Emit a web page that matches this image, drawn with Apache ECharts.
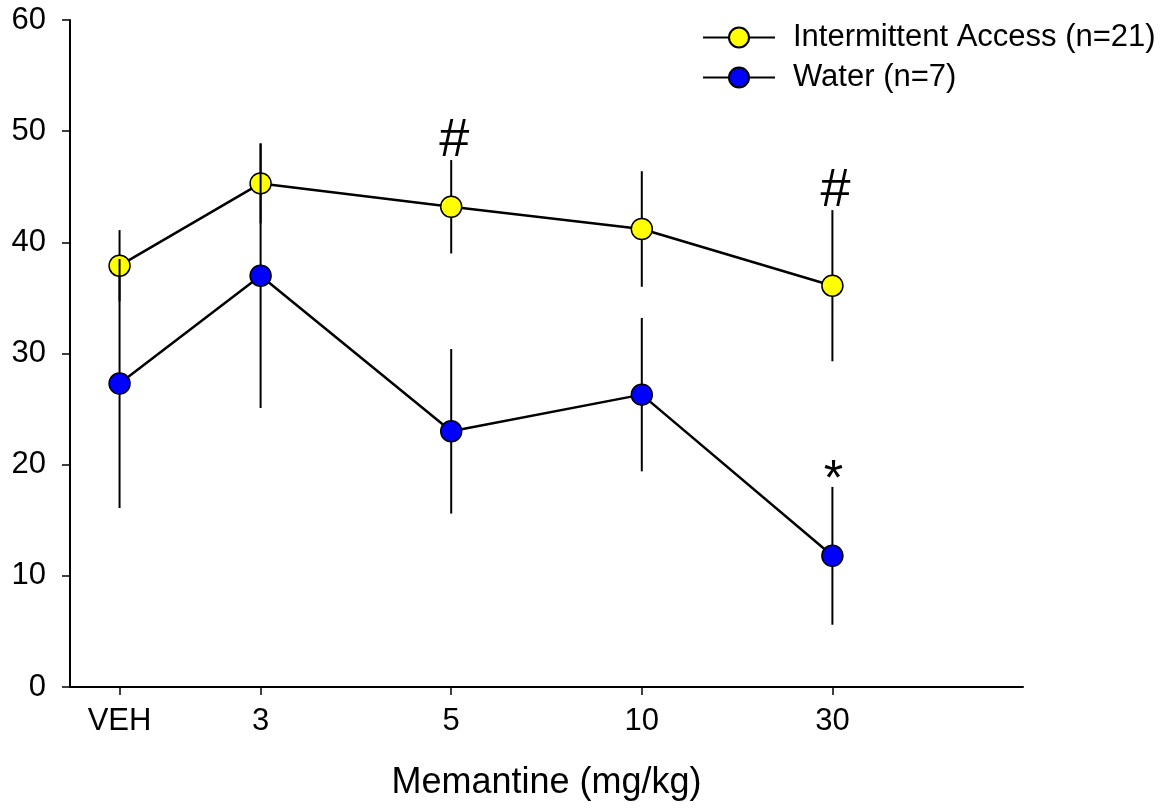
<!DOCTYPE html>
<html>
<head>
<meta charset="utf-8">
<script src="https://cdn.jsdelivr.net/npm/echarts@6/dist/echarts.min.js"></script>
<style>
  html, body { margin: 0; padding: 0; background: #fff; }
  #chart { width: 1175px; height: 810px; }
</style>
</head>
<body>
<div id="chart"></div>
<script>
// Dose groups and where each sits on the (unevenly spaced) dose axis
const doseLabels = ['VEH', '3', '5', '10', '30'];
const doseAxisValues = [0.26, 1, 2, 3, 4];

// Group means and SEM
const iaName = 'Intermittent Access (n=21)';
const iaMean = [37.9, 45.3, 43.2, 41.2, 36.1];
const iaSem = [3.2, 3.6, 4.2, 5.2, 6.8];

const waterName = 'Water (n=7)';
const waterMean = [27.3, 37.0, 23.0, 26.3, 11.8];
const waterSem = [11.2, 11.9, 7.4, 6.9, 6.2];

// Significance marks: [dose index, group, symbol]
const marks = [
  [2, 'ia', '#'],
  [4, 'ia', '#'],
  [4, 'water', '*']
];

const yTicks = [0, 10, 20, 30, 40, 50, 60];

const FONT = 'Liberation Sans, Arial, sans-serif';

function points(means) {
  return means.map((m, i) => [doseAxisValues[i], m]);
}
function errData(means, sems) {
  return means.map((m, i) => [doseAxisValues[i], m - sems[i], m + sems[i]]);
}
function errSeries(means, sems, z) {
  return {
    type: 'custom',
    z: z,
    silent: true,
    data: errData(means, sems),
    renderItem: function (params, api) {
      const lo = api.coord([api.value(0), api.value(1)]);
      const hi = api.coord([api.value(0), api.value(2)]);
      return {
        type: 'line',
        shape: { x1: lo[0], y1: lo[1], x2: hi[0], y2: hi[1] },
        style: { stroke: '#000', lineWidth: 2 }
      };
    }
  };
}
function lineSeries(name, means, color, z) {
  return {
    name: name,
    type: 'line',
    z: z,
    data: points(means),
    symbol: 'circle',
    symbolSize: 21,
    lineStyle: { color: '#000', width: 2.5 },
    itemStyle: { color: color, borderColor: '#000', borderWidth: 1.5 },
    emphasis: { disabled: true },
    animation: false
  };
}

const groups = {
  ia: { mean: iaMean, sem: iaSem },
  water: { mean: waterMean, sem: waterSem }
};
const markData = marks.map(([i, g, s]) => [doseAxisValues[i], groups[g].mean[i] + groups[g].sem[i], s]);

const chart = echarts.init(document.getElementById('chart'), null, { renderer: 'canvas' });

chart.setOption({
  animation: false,
  backgroundColor: '#fff',
  grid: { left: 70, right: 152, top: 20, bottom: 123, containLabel: false },
  legend: {
    orient: 'vertical',
    left: 697,
    top: 17,
    itemWidth: 72,
    itemHeight: 25,
    itemGap: 9,
    data: [iaName, waterName],
    textStyle: { fontFamily: FONT, fontSize: 31, color: '#000', padding: [0, 0, 0, 13] }
  },
  xAxis: {
    type: 'value',
    min: 0,
    max: 5,
    name: 'Memantine (mg/kg)',
    nameLocation: 'middle',
    nameGap: 78,
    nameTextStyle: { fontFamily: FONT, fontSize: 36, color: '#000' },
    axisLine: { onZero: false, lineStyle: { color: '#000', width: 2 } },
    axisTick: { show: true, length: 8, customValues: doseAxisValues, lineStyle: { color: '#000', width: 1.5 } },
    axisLabel: {
      customValues: doseAxisValues,
      margin: 19,
      fontFamily: FONT,
      fontSize: 31,
      color: '#000',
      formatter: function (v) {
        let best = 0;
        doseAxisValues.forEach((p, i) => { if (Math.abs(p - v) < Math.abs(doseAxisValues[best] - v)) best = i; });
        return doseLabels[best];
      }
    },
    splitLine: { show: false }
  },
  yAxis: {
    type: 'value',
    min: yTicks[0],
    max: yTicks[yTicks.length - 1],
    interval: 10,
    axisLine: { show: true, lineStyle: { color: '#000', width: 2 } },
    axisTick: { show: true, length: 8, lineStyle: { color: '#000', width: 1.5 } },
    axisLabel: { margin: 24, fontFamily: FONT, fontSize: 31, color: '#000' },
    splitLine: { show: false }
  },
  series: [
    errSeries(iaMean, iaSem, 1),
    lineSeries(iaName, iaMean, '#ffff00', 2),
    errSeries(waterMean, waterSem, 3),
    lineSeries(waterName, waterMean, '#0000ff', 4),
    {
      type: 'custom',
      z: 5,
      silent: true,
      data: markData,
      renderItem: function (params, api) {
        const p = api.coord([api.value(0), api.value(1)]);
        const sym = markData[params.dataIndex][2];
        const isHash = sym === '#';
        return {
          type: 'text',
          x: p[0] + (isHash ? 3 : 1),
          y: p[1] + (isHash ? 8 : 19),
          style: {
            text: sym,
            fontFamily: FONT,
            fontSize: isHash ? 54 : 50,
            fill: '#000',
            align: 'center',
            verticalAlign: 'bottom'
          }
        };
      }
    }
  ]
});
</script>
</body>
</html>
